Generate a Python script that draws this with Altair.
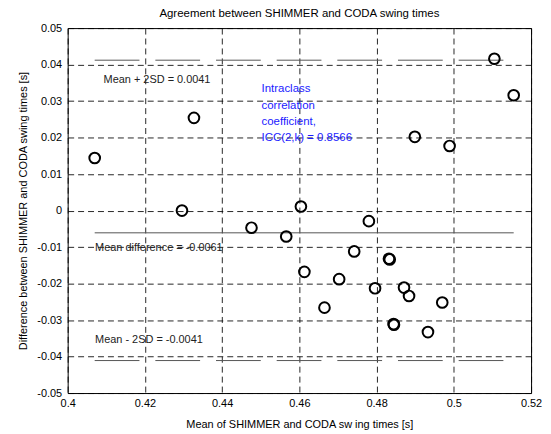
import altair as alt
import pandas as pd

# Bland-Altman data: mean of the two methods (s) and difference (s)
means = [0.4070, 0.4327, 0.4296, 0.4604, 0.5105, 0.5155, 0.4899, 0.4989,
         0.4476, 0.4566, 0.4613, 0.4780, 0.4742, 0.4832, 0.4834, 0.4703,
         0.4796, 0.4871, 0.4884, 0.4970, 0.4665, 0.4844, 0.4845, 0.4933]
diffs = [0.0144, 0.0254, 0.0000, 0.0011, 0.0416, 0.0316, 0.0202, 0.0177,
         -0.0047, -0.0071, -0.0168, -0.0029, -0.0112, -0.0132, -0.0134, -0.0188,
         -0.0213, -0.0211, -0.0234, -0.0252, -0.0266, -0.0311, -0.0313, -0.0333]

mean_diff = -0.0061
upper_limit = 0.0412
lower_limit = -0.0411

x_ticks = [0.40, 0.42, 0.44, 0.46, 0.48, 0.50, 0.52]
y_ticks = [-0.05, -0.04, -0.03, -0.02, -0.01, 0.0, 0.01, 0.02, 0.03, 0.04, 0.05]

ann_text = ["Mean + 2SD = 0.0041", "Mean difference = -0.0061", "Mean - 2SD = -0.0041"]
ann_x = [0.4093, 0.4071, 0.4071]
ann_y = [0.0357, -0.0103, -0.0356]

icc_lines = ["Intraclass", "correlation", "coefficient,", "ICC(2,k) = 0.8566"]
icc_x = 0.4502
icc_y = 0.0332

pts = pd.DataFrame({"m": means, "d": diffs})
xmin, xmax = min(means), max(means)
mean_df = pd.DataFrame({"x": [xmin], "x2": [xmax], "y": [mean_diff]})
lim_df = pd.DataFrame({"x": [xmin, xmin], "x2": [xmax, xmax], "y": [upper_limit, lower_limit]})
ann_df = pd.DataFrame({"t": ann_text, "x": ann_x, "y": ann_y})
icc_df = pd.DataFrame({"t": [icc_lines], "x": [icc_x], "y": [icc_y]})

lab = "replace(format(datum.value, '~g'), '\u2212', '-')"

xscale = alt.Scale(domain=[0.4, 0.52], nice=False, zero=False)
yscale = alt.Scale(domain=[-0.05, 0.05], nice=False, zero=False)

xenc = alt.X("m:Q", scale=xscale,
             axis=alt.Axis(values=x_ticks, tickCount=len(x_ticks), labelExpr=lab, grid=True,
                           ticks=False, domain=False, labelOverlap=False, labelFlush=False,
                           title="Mean of SHIMMER and CODA sw ing times [s]",
                           labelPadding=5, titlePadding=10))
yenc = alt.Y("d:Q", scale=yscale,
             axis=alt.Axis(values=y_ticks, tickCount=len(y_ticks), labelExpr=lab, grid=True,
                           ticks=False, domain=False, labelOverlap=False, labelFlush=False,
                           title="Difference between SHIMMER and CODA swing times [s]",
                           labelPadding=6, titlePadding=8))

points = alt.Chart(pts).mark_point(shape="circle", size=115, filled=False,
                                   color="black", strokeWidth=2, opacity=1).encode(x=xenc, y=yenc)

mean_line = alt.Chart(mean_df).mark_rule(color="#555555", strokeWidth=1).encode(
    x="x:Q", x2="x2:Q", y="y:Q")
lim_lines = alt.Chart(lim_df).mark_rule(color="#555555", strokeWidth=1, strokeDash=[45, 16]).encode(
    x="x:Q", x2="x2:Q", y="y:Q")

ann = alt.Chart(ann_df).mark_text(align="left", baseline="middle", fontSize=11,
                                  font="Liberation Sans", color="#222222").encode(
    x="x:Q", y="y:Q", text="t:N")
icc = alt.Chart(icc_df).mark_text(align="left", baseline="middle", fontSize=11.5, lineHeight=16.3,
                                  font="Liberation Sans", color="#1a1aff").encode(
    x="x:Q", y="y:Q", text="t")

chart = alt.layer(lim_lines, mean_line, ann, icc, points).properties(
    width=466, height=367,
    title=alt.TitleParams("Agreement between SHIMMER and CODA swing times", fontSize=11.5,
                          font="Liberation Sans", fontWeight="normal", color="black", offset=3),
    autosize=alt.AutoSizeParams(type="none"),
    padding={"left": 60, "top": 19, "right": 12, "bottom": 40},
).configure_view(stroke="black", strokeWidth=1).configure_axis(
    labelFont="Liberation Sans", titleFont="Liberation Sans", labelFontSize=11, titleFontSize=11,
    titleFontWeight="normal", labelColor="black", titleColor="black",
    gridColor="black", gridDash=[6, 4], gridOpacity=0.85, gridWidth=1
)

chart.save("out.html", embed_options={"renderer": "svg", "actions": False})
